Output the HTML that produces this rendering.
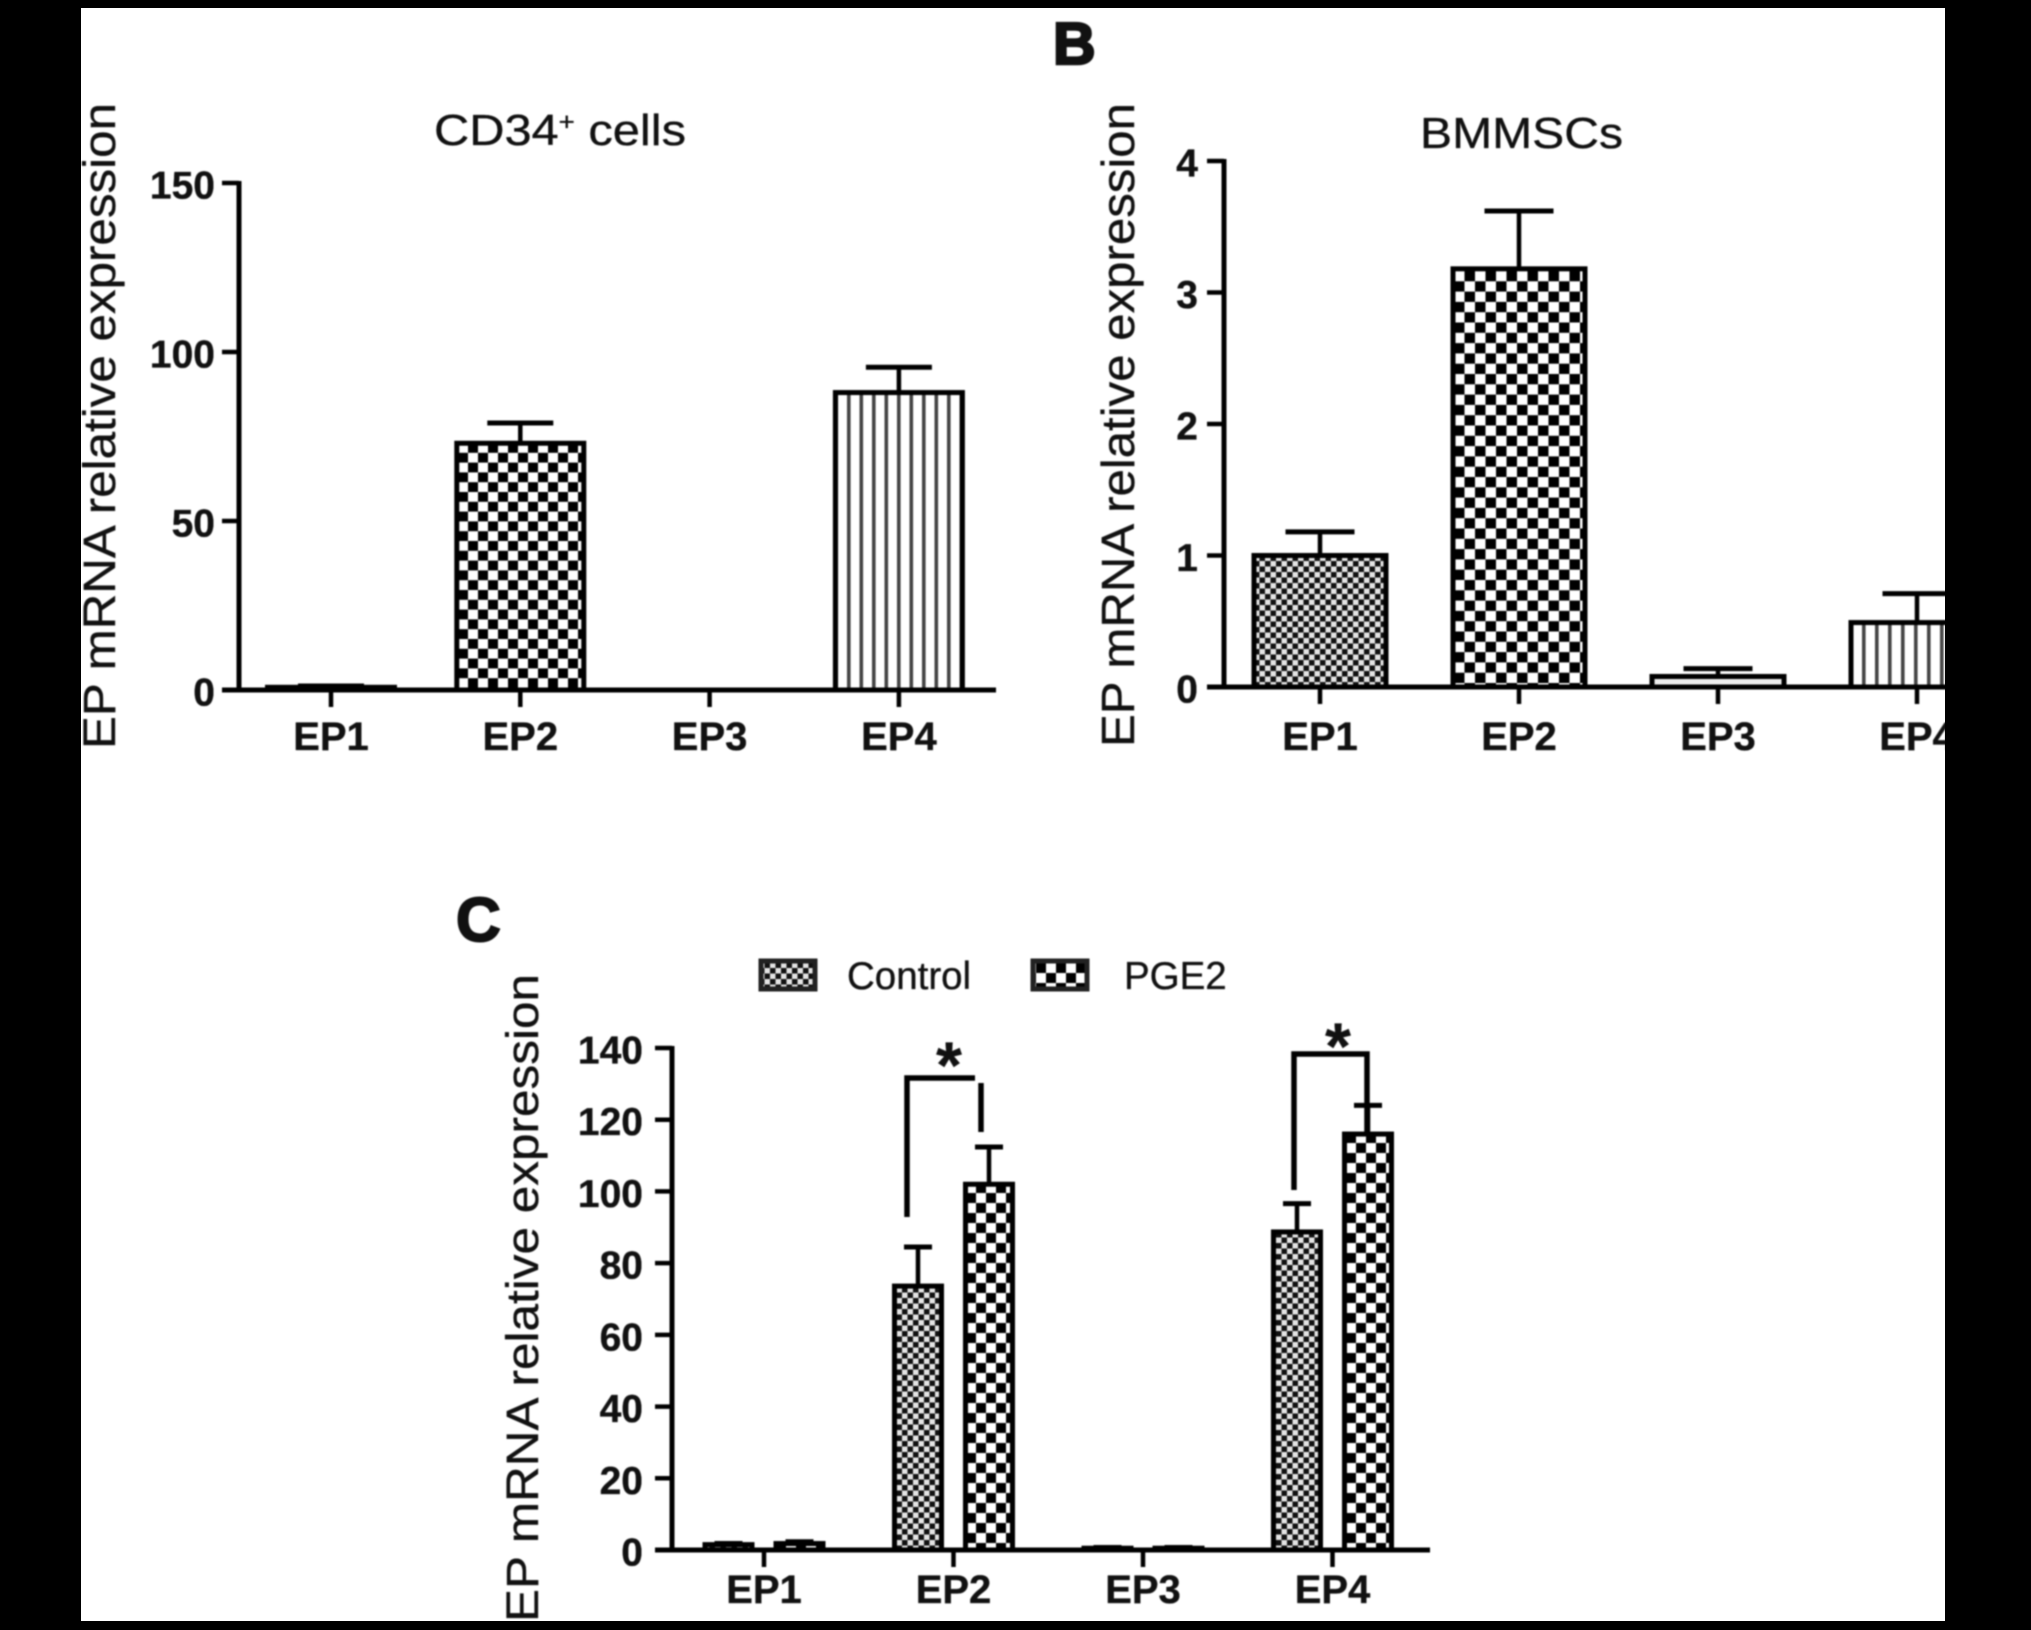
<!DOCTYPE html>
<html lang="en">
<head>
<meta charset="utf-8">
<title>EP mRNA relative expression</title>
<style>
html,body{margin:0;padding:0;background:#000;}
#figure{display:block;width:2031px;height:1630px;}
#figure text{font-family:"Liberation Sans",sans-serif;fill:#111;stroke:#111;stroke-width:0.35px;}
#content{filter:blur(0.9px);}
</style>
</head>
<body>
<svg id="figure" xmlns="http://www.w3.org/2000/svg" width="2031" height="1630" viewBox="0 0 2031 1630">
<defs>
<pattern id="fine-check" patternUnits="userSpaceOnUse" width="11" height="11">
<rect width="11" height="11" fill="#e4e4e4"/><rect width="5.5" height="5.5" fill="#111"/><rect x="5.5" y="5.5" width="5.5" height="5.5" fill="#111"/>
</pattern>
<pattern id="check-a" patternUnits="userSpaceOnUse" width="20" height="19.6" patternTransform="translate(458 443)">
<rect width="20" height="19.6" fill="#000"/><rect width="10" height="9.8" fill="#fff"/><rect x="10" y="9.8" width="10" height="9.8" fill="#fff"/>
</pattern>
<pattern id="check-b" patternUnits="userSpaceOnUse" width="21" height="20.6" patternTransform="translate(1454 271)">
<rect width="21" height="20.6" fill="#000"/><rect width="10.5" height="10.3" fill="#fff"/><rect x="10.5" y="10.3" width="10.5" height="10.3" fill="#fff"/>
</pattern>
<pattern id="check-c" patternUnits="userSpaceOnUse" width="20" height="20" patternTransform="translate(966 1283)">
<rect width="20" height="20" fill="#000"/><rect width="10" height="10" fill="#fff"/><rect x="10" y="10" width="10" height="10" fill="#fff"/>
</pattern>
<pattern id="stripes-a" patternUnits="userSpaceOnUse" width="12.5" height="14" patternTransform="translate(847 0)">
<rect width="12.5" height="14" fill="#fff"/><rect width="3.6" height="14" fill="#444"/>
</pattern>
<pattern id="stripes-b" patternUnits="userSpaceOnUse" width="13" height="14" patternTransform="translate(1862 0)">
<rect width="13" height="14" fill="#fff"/><rect width="3.6" height="14" fill="#444"/>
</pattern>
</defs>
<rect x="0" y="0" width="2031" height="1630" fill="#fff"/>
<g id="content"></g>
<g>
<rect x="0" y="0" width="81" height="1630" fill="#000"/>
<rect x="1945" y="0" width="86" height="1630" fill="#000"/>
<rect x="0" y="0" width="2031" height="8" fill="#000"/>
<rect x="0" y="1621" width="2031" height="9" fill="#000"/>
</g>
</svg>
<script>
const categories = ['EP1', 'EP2', 'EP3', 'EP4'];
const panelATicks = [0, 50, 100, 150];
const panelAValues = [0.8, 73, 0, 88];
const panelAErrors = [0.4, 6, 0, 7.5];
const panelBTicks = [0, 1, 2, 3, 4];
const panelBValues = [1, 3.18, 0.08, 0.49];
const panelBErrors = [0.18, 0.44, 0.06, 0.22];
const panelCTicks = [0, 20, 40, 60, 80, 100, 120, 140];
const controlValues = [1.5, 73.6, 0.5, 88.7];
const controlErrors = [0.3, 10.9, 0.2, 7.9];
const pge2Values = [1.8, 102, 0.5, 116];
const pge2Errors = [0.5, 10.4, 0.2, 8];

const NS = 'http://www.w3.org/2000/svg';
const root = document.getElementById('content');

function shape(tag, attrs, parent) {
  const el = document.createElementNS(NS, tag);
  for (const k in attrs) el.setAttribute(k, attrs[k]);
  (parent || root).appendChild(el);
  return el;
}
function line(x1, y1, x2, y2, width, parent) {
  return shape('line', {x1: x1, y1: y1, x2: x2, y2: y2, stroke: '#000', 'stroke-width': width}, parent);
}
function label(content, x, y, size, weight, anchor, parent) {
  const el = shape('text', {x: x, y: y, 'font-size': size, 'font-weight': weight, 'text-anchor': anchor}, parent);
  el.textContent = content;
  return el;
}

function drawAxes(panel, cfg, ticks, yScale, xScale) {
  const yAxis = line(cfg.axisX, yScale(ticks[ticks.length - 1]) - 2, cfg.axisX, yScale(0), 5, panel);
  
  
  const xAxis = line(cfg.axisX - 17, yScale(0), cfg.axisEnd, yScale(0), 5, panel);
  
  
  ticks.forEach(function (t) {
    const tick = line(cfg.axisX - 17, yScale(t), cfg.axisX, yScale(t), 4.5, panel);
    
    
    const txt = label(String(t), cfg.axisX - cfg.tickGap, yScale(t) + 15.5, 39, 'bold', 'end', panel);
    
    
  });
  categories.forEach(function (c, i) {
    const tick = line(xScale(i), yScale(0), xScale(i), yScale(0) + 17, 4.5, panel);
    
    
    const txt = label(c, xScale(i), cfg.labelY, 40, 'bold', 'middle', panel);
    
    
  });
}

function drawBar(panel, name, cx, width, capWidth, value, error, yScale, fill) {
  if (value <= 0) return;
  const top = yScale(value);
  const errTop = yScale(value + error);
  const stem = line(cx, errTop, cx, top, 4.5, panel);
  
  
  const cap = line(cx - capWidth / 2, errTop, cx + capWidth / 2, errTop, 5, panel);
  
  
  const bar = shape('rect', {x: cx - width / 2, y: top, width: width, height: yScale(0) - top, fill: fill, stroke: '#000', 'stroke-width': 5}, panel);
  
  
}

function yTitle(panel, x, y, len, size) {
  const t = shape('text', {transform: 'translate(' + x + ',' + y + ') rotate(-90)', 'font-size': size, textLength: len, lengthAdjust: 'spacingAndGlyphs'}, panel);
  t.textContent = 'EP mRNA relative expression';
  
  
}

/* Panel A */
const panelA = shape('g', {});


const yA = function (v) { return 690 - v * (507 / 150); };
const xA = function (i) { return 331 + i * 189.3; };
const fillsA = ['url(#fine-check)', 'url(#check-a)', '#fff', 'url(#stripes-a)'];
drawAxes(panelA, {axisX: 239, axisEnd: 996, tickGap: 24, labelY: 750}, panelATicks, yA, xA);
categories.forEach(function (c, i) {
  drawBar(panelA, 'bar-a-' + c.toLowerCase(), xA(i), 127, 66, panelAValues[i], panelAErrors[i], yA, fillsA[i]);
});
yTitle(panelA, 115, 749, 646, 45);
const titleA = shape('text', {x: 434, y: 145, 'font-size': 44, textLength: 252, lengthAdjust: 'spacingAndGlyphs'}, panelA);


const titleMain = shape('tspan', {}, titleA);
titleMain.textContent = 'CD34';
const titleSup = shape('tspan', {dy: -15, 'font-size': 25}, titleA);
titleSup.textContent = '+';
const titleRest = shape('tspan', {dy: 15}, titleA);
titleRest.textContent = ' cells';

/* Panel B */
const panelB = shape('g', {});


const yB = function (v) { return 687 - v * 131.5; };
const xB = function (i) { return 1320 + i * 199; };
const fillsB = ['url(#fine-check)', 'url(#check-b)', '#eee', 'url(#stripes-b)'];
drawAxes(panelB, {axisX: 1224, axisEnd: 1950, tickGap: 26, labelY: 750}, panelBTicks, yB, xB);
categories.forEach(function (c, i) {
  drawBar(panelB, 'bar-b-' + c.toLowerCase(), xB(i), 132, 69, panelBValues[i], panelBErrors[i], yB, fillsB[i]);
});
yTitle(panelB, 1134, 747, 644, 46);
const titleB = label('BMMSCs', 1420, 148, 44, 'normal', 'start', panelB);
titleB.setAttribute('textLength', 203);
titleB.setAttribute('lengthAdjust', 'spacingAndGlyphs');


const letterB = label('B', 1053, 64, 59, 'bold', 'start', panelB);
letterB.setAttribute('style', 'stroke-width:2.5px');



/* Panel C */
const panelC = shape('g', {});


const yC = function (v) { return 1550 - v * (502 / 140); };
const xC = function (i) { return 764 + i * 189.5; };
const groupOffset = 35.5;
drawAxes(panelC, {axisX: 672, axisEnd: 1430, tickGap: 29, labelY: 1603}, panelCTicks, yC, xC);
categories.forEach(function (c, i) {
  drawBar(panelC, 'bar-control-' + c.toLowerCase(), xC(i) - groupOffset, 47, 28, controlValues[i], controlErrors[i], yC, 'url(#fine-check)');
  drawBar(panelC, 'bar-pge2-' + c.toLowerCase(), xC(i) + groupOffset, 47, 28, pge2Values[i], pge2Errors[i], yC, 'url(#check-c)');
});
yTitle(panelC, 538, 1622, 648, 45);
const letterC = label('C', 456, 941, 62, 'bold', 'start', panelC);
letterC.setAttribute('style', 'stroke-width:2px');



const legend = shape('g', {}, panelC);


const swatchControl = shape('rect', {x: 761, y: 961, width: 54, height: 28, fill: 'url(#fine-check)', stroke: '#222', 'stroke-width': 5}, legend);


const textControl = label('Control', 847, 989, 38.5, 'normal', 'start', legend);


const swatchPge2 = shape('rect', {x: 1033, y: 961, width: 54, height: 28, fill: 'url(#check-c)', stroke: '#222', 'stroke-width': 5}, legend);


const textPge2 = label('PGE2', 1124, 989, 38.5, 'normal', 'start', legend);



const bracketEp2 = shape('path', {d: 'M907 1217V1078H975M981 1083V1132', fill: 'none', stroke: '#000', 'stroke-width': 5.5}, panelC);


const starEp2 = label('*', 949, 1088, 66, 'bold', 'middle', panelC);


const bracketEp4 = shape('path', {d: 'M1294 1190V1054H1367V1134', fill: 'none', stroke: '#000', 'stroke-width': 5.5}, panelC);


const starEp4 = label('*', 1338, 1069, 66, 'bold', 'middle', panelC);


</script>
</body>
</html>
